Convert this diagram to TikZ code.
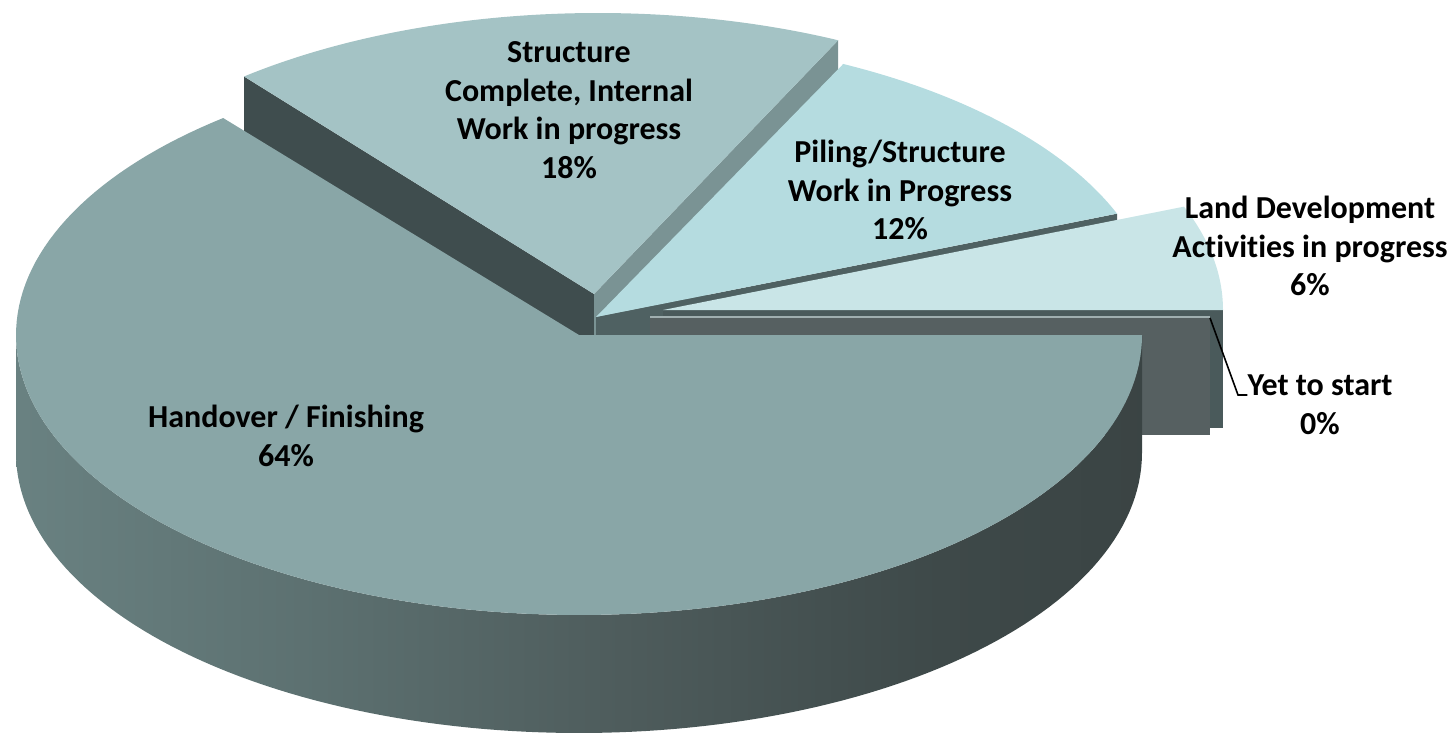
\documentclass[tikz,border=0pt]{standalone}
\usepackage{fontspec}
\setmainfont[Ligatures=NoCommon]{Carlito}
\definecolor{face64}{RGB}{137,166,167}
\definecolor{face18}{RGB}{164,195,197}
\definecolor{face12}{RGB}{181,220,224}
\definecolor{face6}{RGB}{201,229,231}
\definecolor{wall18L}{RGB}{63,77,78}
\definecolor{wall18R}{RGB}{122,147,148}
\definecolor{wall12}{RGB}{79,97,98}
\definecolor{wall6}{RGB}{74,90,91}
\definecolor{wall0}{RGB}{86,96,97}
\definecolor{line0}{RGB}{160,175,176}
\definecolor{wc0}{RGB}{112,138,138}
\definecolor{wc1}{RGB}{105,129,129}
\definecolor{wc2}{RGB}{92,112,112}
\definecolor{wc3}{RGB}{78,92,92}
\definecolor{wc4}{RGB}{62,73,73}
\definecolor{wc5}{RGB}{57,66,66}
\definecolor{wc6}{RGB}{55,64,64}
\pgfdeclarehorizontalshading{bigwall}{100bp}{color(0bp)=(wc0); color(25.2bp)=(wc1); color(38.5bp)=(wc2); color(51.9bp)=(wc3); color(66bp)=(wc4); color(78.5bp)=(wc5); color(100bp)=(wc6)}
\begin{document}
\begin{tikzpicture}[x=0.75pt,y=-0.75pt,
  lbl/.style={font=\fontsize{24}{28.9}\selectfont\bfseries, align=center, inner sep=0pt, text=black},
  leader/.style={line width=1.2pt, black}]
\useasboundingbox (0,0) rectangle (1451,734);

% 18% slice: walls and top face
\fill[wall18L] (594,294) -- (244,76.5) -- (244,194.5) -- (594,412) -- cycle;
\fill[wall18R] (594,294) -- (838.2,40.2) -- (838.2,158.2) -- (594,412) -- cycle;
\fill[face18] (594,294) -- plot[domain=-129.2:-64.6, samples=100, variable=\t] ({598+560*cos(\t)},{295+282*sin(\t)}) -- cycle;

% 12% slice
\fill[wall12] (596,317) -- (1117,213.7) -- (1117,331.7) -- (596,435) -- cycle;
\fill[face12] (596,317) -- plot[domain=-63.8:-21.5, samples=100, variable=\t] ({596+560*cos(\t)},{317+282*sin(\t)}) -- cycle;

% 6% and 0% slices
\fill[wall6] (663,310) rectangle (1223,428);
\fill[wall0] (650,317) rectangle (1210,435);
\draw[line0, line width=1pt] (650,317) -- (1210,317);
\fill[face6] (663,310) -- plot[domain=-21.5:0, samples=60, variable=\t] ({663+560*cos(\t)},{310+282*sin(\t)}) -- cycle;

% 64% slice
\shade[shading=bigwall] plot[domain=0:180, samples=120, variable=\t] ({579+563*cos(\t)},{335+280*sin(\t)}) -- plot[domain=180:0, samples=120, variable=\t] ({579+563*cos(\t)},{453+280*sin(\t)}) -- cycle;
\fill[face64] (579,335) -- plot[domain=0:230.8, samples=150, variable=\t] ({579+563*cos(\t)},{335+280*sin(\t)}) -- cycle;

% labels
\node[lbl] (n18) at (569,110) {Structure\\Complete, Internal\\Work in progress\\18\%};
\node[lbl] (n12) at (900,190) {Piling/Structure\\Work in Progress\\12\%};
\node[lbl] (n6) at (1310,246) {Land Development\\Act\kern0pt ivit\kern0pt ies in progress\\6\%};
\node[lbl] (n0) at (1320,405) {Yet to start\\0\%};
\node[lbl] (n64) at (286,436) {Handover / Finishing\\64\%};

% leader line
\coordinate (p0) at (1210,318);
\coordinate (q0) at (1238,395);
\draw[leader] (p0) -- (q0) -- (q0 -| n0.west);
\end{tikzpicture}
\end{document}
